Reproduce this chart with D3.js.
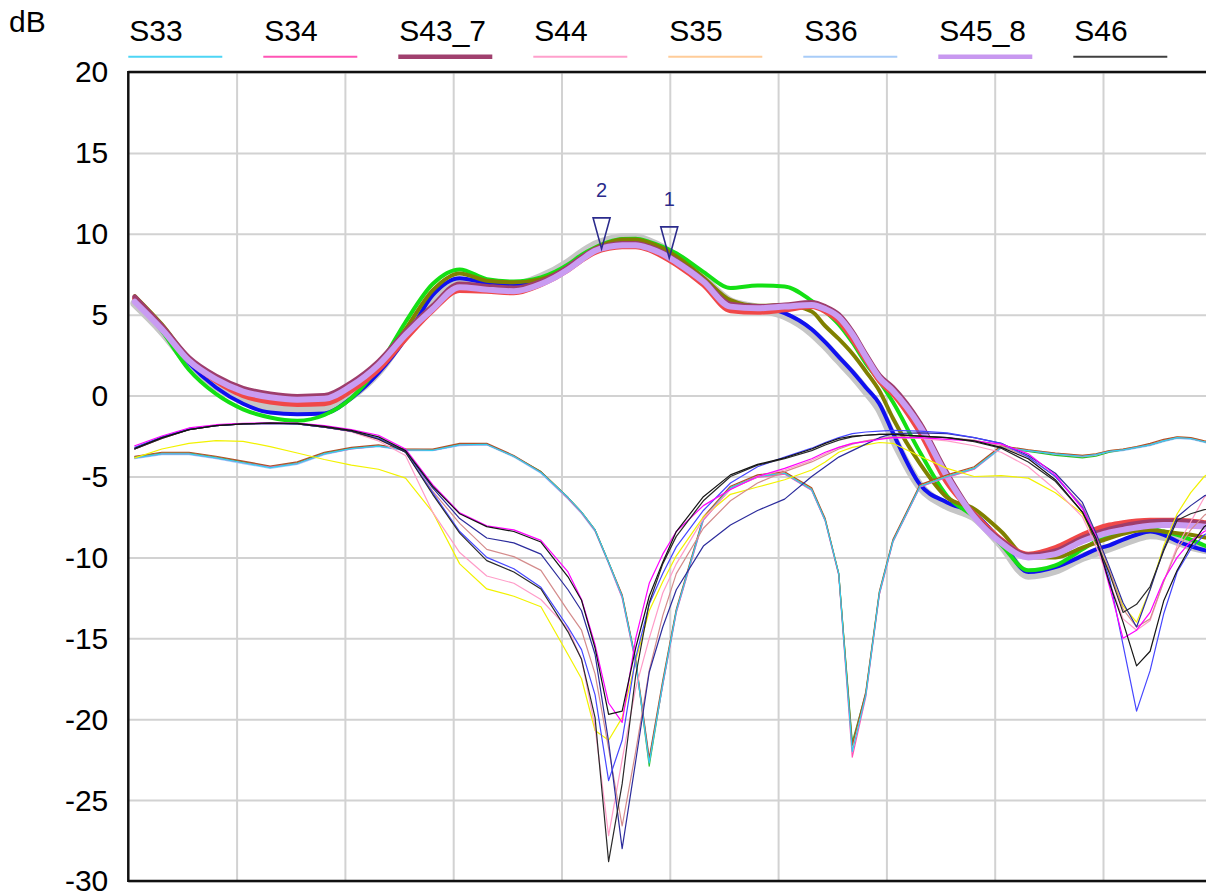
<!DOCTYPE html>
<html>
<head>
<meta charset="utf-8">
<script src="https://cdn.jsdelivr.net/npm/d3@7"></script>
<style>
  html, body { margin: 0; padding: 0; background: #ffffff; }
  svg { display: block; font-family: "Liberation Sans", Arial, sans-serif; }
</style>
</head>
<body>
<svg id="chart" width="1206" height="895"></svg>
<script>
// Sweep points (grid divisions along the frequency axis)
const freq = [0.06,0.31,0.56,0.81,1.06,1.31,1.56,1.81,2.06,2.31,2.56,2.81,3.06,3.31,3.56,3.81,4.06,
  4.185,4.31,4.435,4.56,4.685,4.81,4.935,5.06,5.31,5.56,5.81,6.06,6.31,
  6.435,6.56,6.685,6.81,6.935,7.06,7.31,7.56,7.81,8.06,8.31,8.56,8.81,
  8.935,9.06,9.185,9.31,9.435,9.56,9.685,9.81,9.935,10.06];

const yTicks = [20, 15, 10, 5, 0, -5, -10, -15, -20, -25, -30];
const xGrid = [1, 2, 3, 4, 5, 6, 7, 8, 9];

// ---- gain traces (dB) ----
const s45_4 = [5.7,4.0,2.0,0.6,-0.3,-0.7,-0.85,-0.8,0.0,1.5,
  3.8,6.0,6.95,6.8,6.8,7.3,8.2,8.8,9.3,9.6,
  9.75,9.75,9.5,9.1,8.5,7.2,5.8,5.4,4.95,3.9,
  3.1,2.2,1.3,0.3,-0.8,-2.6,-5.6,-6.8,-7.5,-9.2,
  -11.1,-10.8,-10.0,-9.7,-9.4,-9.1,-8.8,-8.6,-8.7,-9.0,
  -9.3,-9.5,-9.7];
const s43_3 = [6.0,4.1,2.0,0.5,-0.5,-1.05,-1.15,-1.1,-0.15,1.4,
  3.5,6.2,7.25,6.95,6.8,7.15,8.0,8.55,9.05,9.35,
  9.55,9.55,9.3,8.95,8.45,7.25,5.7,5.5,5.1,4.1,
  3.3,2.4,1.5,0.5,-0.5,-2.3,-5.5,-6.6,-7.3,-9.0,
  -10.9,-10.6,-9.9,-9.5,-9.25,-8.9,-8.6,-8.4,-8.6,-9.0,
  -9.3,-9.55,-9.7];
const s43_1 = [6.0,4.0,1.6,0.1,-0.85,-1.35,-1.55,-1.2,-0.15,1.8,
  4.55,6.9,7.8,7.2,7.05,7.3,8.1,8.7,9.15,9.5,
  9.68,9.7,9.5,9.2,8.8,7.65,6.65,6.8,6.75,5.85,
  5.2,4.4,3.3,2.0,0.9,-0.4,-3.5,-6.2,-7.5,-9.2,
  -10.8,-10.5,-9.5,-9.0,-8.6,-8.35,-8.15,-8.2,-8.4,-8.6,
  -8.9,-9.25,-9.5];
const s43_5 = [6.15,4.4,2.3,1.0,0.2,-0.2,-0.35,-0.3,0.4,1.8,
  4.1,6.5,7.55,7.1,7.0,7.2,7.95,8.55,9.1,9.45,
  9.65,9.65,9.45,9.1,8.6,7.3,5.9,5.55,5.6,5.2,
  4.3,3.5,2.6,1.5,0.3,-1.4,-4.2,-6.3,-7.0,-8.4,
  -10.0,-10.0,-9.4,-9.1,-8.8,-8.55,-8.35,-8.3,-8.4,-8.5,
  -8.6,-8.75,-8.85];
const s45_2 = [6.0,4.25,2.2,0.9,0.0,-0.4,-0.55,-0.5,0.3,1.6,
  3.5,5.25,6.5,6.45,6.35,6.85,7.75,8.35,8.85,9.1,
  9.2,9.2,9.0,8.6,8.1,6.85,5.25,5.15,5.3,5.5,
  5.2,4.6,3.5,2.2,0.9,0.1,-2.3,-5.4,-7.3,-8.9,
  -9.8,-9.4,-8.6,-8.25,-8.0,-7.85,-7.75,-7.7,-7.7,-7.7,
  -7.75,-7.85,-7.95];
const s43_7 = [6.1,4.3,2.35,1.2,0.45,0.1,-0.05,0.0,0.8,2.1,
  3.95,5.55,6.9,6.75,6.65,7.05,7.95,8.55,9.05,9.3,
  9.4,9.4,9.2,8.85,8.35,7.15,5.65,5.5,5.6,5.75,
  5.5,5.0,3.95,2.55,1.25,0.5,-1.7,-4.8,-7.4,-8.95,
  -9.85,-9.6,-8.8,-8.5,-8.25,-8.05,-7.9,-7.8,-7.75,-7.75,
  -7.8,-7.9,-8.0];
const s45_8 = [5.8,4.1,2.15,1.0,0.25,-0.1,-0.25,-0.2,0.6,1.9,
  3.75,5.35,6.7,6.55,6.45,6.9,7.8,8.4,8.95,9.2,
  9.3,9.3,9.1,8.75,8.25,7.05,5.5,5.4,5.5,5.6,
  5.35,4.85,3.8,2.4,1.1,0.3,-1.9,-5.0,-7.5,-9.1,
  -10.0,-9.8,-9.0,-8.7,-8.45,-8.3,-8.15,-8.05,-8.0,-8.0,
  -8.05,-8.1,-8.2];

// ---- isolation traces (dB) ----
const s36 = [-3.9,-3.65,-3.65,-3.9,-4.2,-4.5,-4.25,-3.65,-3.3,-3.15,
  -3.4,-3.4,-3.1,-3.05,-3.8,-4.8,-6.4,-7.3,-8.4,-10.4,
  -12.5,-16.5,-22.5,-17.9,-13.4,-7.7,-5.75,-5.05,-4.85,-5.85,
  -7.75,-11.1,-21.8,-18.5,-12.3,-9.05,-5.65,-5.05,-4.55,-3.25,
  -3.45,-3.65,-3.8,-3.7,-3.5,-3.4,-3.25,-3.1,-2.85,-2.65,
  -2.7,-2.9,-3.05];
const s35 = [-3.8,-3.55,-3.55,-3.8,-4.1,-4.4,-4.15,-3.55,-3.25,-3.1,
  -3.3,-3.35,-3.0,-3.0,-3.75,-4.7,-6.3,-7.2,-8.3,-10.3,
  -12.4,-16.4,-22.6,-17.7,-13.3,-7.6,-5.65,-4.95,-4.75,-5.75,
  -7.65,-11.0,-21.8,-18.4,-12.2,-8.95,-5.55,-4.95,-4.45,-3.15,
  -3.35,-3.55,-3.7,-3.6,-3.4,-3.3,-3.15,-3.0,-2.75,-2.55,
  -2.6,-2.8,-2.95];
const s63 = [-3.8,-3.55,-3.55,-3.8,-4.1,-4.4,-4.15,-3.55,-3.25,-3.1,
  -3.35,-3.35,-3.0,-3.0,-3.75,-4.7,-6.3,-7.2,-8.3,-10.3,
  -12.4,-16.4,-22.9,-17.8,-13.3,-7.6,-5.7,-5.0,-4.8,-5.8,
  -7.7,-11.0,-21.4,-18.4,-12.2,-9.0,-5.6,-5.0,-4.5,-3.2,
  -3.45,-3.7,-3.85,-3.75,-3.5,-3.35,-3.2,-3.05,-2.8,-2.6,
  -2.65,-2.85,-3.0];
const s34 = [-3.85,-3.6,-3.6,-3.85,-4.15,-4.4,-4.2,-3.6,-3.3,-3.12,
  -3.35,-3.38,-3.05,-3.02,-3.75,-4.75,-6.35,-7.25,-8.35,-10.35,
  -12.5,-16.5,-22.6,-17.9,-13.4,-7.7,-5.75,-5.05,-4.85,-5.85,
  -7.75,-11.1,-22.35,-18.6,-12.3,-9.05,-5.65,-5.05,-4.55,-3.2,
  -3.4,-3.6,-3.75,-3.65,-3.45,-3.35,-3.2,-3.05,-2.8,-2.6,
  -2.65,-2.85,-3.0];
const s53 = [-3.75,-3.5,-3.5,-3.75,-4.05,-4.35,-4.1,-3.5,-3.2,-3.05,
  -3.3,-3.3,-2.95,-2.95,-3.7,-4.7,-6.3,-7.2,-8.3,-10.3,
  -12.3,-16.3,-22.4,-17.6,-13.2,-7.5,-5.6,-4.9,-4.7,-5.7,
  -7.6,-11.0,-21.6,-18.3,-12.1,-8.9,-5.5,-4.9,-4.4,-3.1,
  -3.35,-3.55,-3.7,-3.6,-3.4,-3.3,-3.15,-2.95,-2.7,-2.55,
  -2.6,-2.8,-2.95];
const s33 = [-3.85,-3.6,-3.6,-3.85,-4.15,-4.45,-4.2,-3.6,-3.28,-3.12,
  -3.35,-3.38,-3.05,-3.02,-3.75,-4.75,-6.3,-7.2,-8.3,-10.3,
  -12.4,-16.4,-22.7,-17.8,-13.3,-7.6,-5.7,-5.0,-4.8,-5.8,
  -7.7,-11.0,-22.0,-18.5,-12.2,-9.0,-5.6,-5.0,-4.5,-3.2,
  -3.4,-3.6,-3.75,-3.65,-3.45,-3.35,-3.2,-3.05,-2.8,-2.6,
  -2.65,-2.85,-3.0];

// ---- return-loss traces (dB) ----
const s54 = [-3.85,-3.3,-2.95,-2.78,-2.83,-3.15,-3.55,-3.95,-4.3,-4.55,
  -5.1,-7.2,-10.4,-11.95,-12.4,-13.05,-16.0,-17.5,-20.7,-21.3,
  -19.9,-16.4,-13.3,-11.5,-9.9,-7.5,-6.1,-5.65,-5.2,-4.6,
  -4.1,-3.5,-3.2,-3.05,-2.9,-2.95,-3.75,-4.5,-5.0,-4.95,
  -5.1,-6.0,-7.3,-9.0,-10.9,-13.0,-14.0,-12.0,-9.3,-7.3,
  -6.0,-5.0,-4.4];
const s44 = [-3.3,-2.65,-2.1,-1.85,-1.75,-1.72,-1.75,-1.95,-2.25,-2.8,
  -3.7,-7.2,-9.7,-11.15,-11.6,-12.6,-14.4,-16.3,-20.5,-27.2,
  -22.5,-18.1,-15.0,-12.2,-10.4,-7.6,-5.8,-5.0,-4.6,-4.0,
  -3.6,-3.2,-2.95,-2.8,-2.65,-2.6,-2.65,-2.8,-3.1,-3.5,
  -4.4,-5.8,-7.5,-9.3,-11.5,-13.8,-14.5,-13.9,-11.5,-9.3,
  -7.8,-6.3,-5.5];
const s65 = [-3.3,-2.65,-2.1,-1.85,-1.75,-1.72,-1.75,-1.95,-2.2,-2.7,
  -3.5,-5.9,-7.9,-9.5,-9.95,-10.8,-13.3,-14.5,-17.2,-21.8,
  -26.6,-22.0,-17.0,-13.6,-11.0,-8.2,-6.5,-5.4,-4.7,-4.1,
  -3.7,-3.3,-3.0,-2.8,-2.65,-2.55,-2.55,-2.6,-2.75,-3.1,
  -3.8,-5.0,-6.8,-8.6,-10.8,-13.2,-14.3,-13.8,-11.5,-9.5,
  -8.3,-7.4,-6.9];
const s64 = [-3.3,-2.6,-2.1,-1.85,-1.75,-1.72,-1.75,-1.95,-2.2,-2.65,
  -3.45,-5.7,-7.6,-8.8,-9.1,-9.8,-12.0,-13.3,-16.0,-21.4,
  -28.0,-22.6,-17.1,-14.3,-12.0,-9.3,-8.0,-7.1,-6.4,-5.0,
  -4.4,-3.8,-3.4,-3.0,-2.6,-2.35,-2.3,-2.35,-2.6,-2.95,
  -3.7,-4.8,-6.6,-8.5,-10.6,-12.8,-14.3,-12.0,-9.5,-7.5,
  -6.8,-6.2,-5.8];
const s56 = [-3.2,-2.55,-2.05,-1.85,-1.75,-1.72,-1.75,-1.95,-2.2,-2.65,
  -3.5,-6.0,-8.4,-10.0,-10.7,-11.85,-14.3,-15.7,-18.5,-23.8,
  -21.3,-16.2,-12.9,-11.0,-9.35,-7.1,-5.4,-4.4,-3.8,-3.25,
  -2.9,-2.6,-2.35,-2.25,-2.2,-2.15,-2.2,-2.3,-2.6,-2.95,
  -3.8,-5.0,-6.9,-8.8,-11.3,-15.4,-19.5,-17.0,-13.5,-10.9,
  -9.5,-8.6,-8.2];
const s55 = [-3.1,-2.5,-2.0,-1.8,-1.72,-1.68,-1.7,-1.85,-2.1,-2.45,
  -3.3,-5.5,-7.25,-8.05,-8.3,-8.95,-10.9,-12.6,-15.4,-19.0,
  -20.2,-15.0,-11.6,-9.8,-8.4,-6.8,-5.8,-5.0,-4.5,-3.9,
  -3.5,-3.2,-2.95,-2.85,-2.7,-2.6,-2.6,-2.7,-2.8,-3.0,
  -3.6,-4.9,-7.0,-8.7,-11.8,-15.0,-14.5,-13.4,-11.4,-10.0,
  -9.0,-8.4,-8.0];
const s66 = [-3.3,-2.65,-2.1,-1.85,-1.75,-1.7,-1.75,-1.95,-2.2,-2.7,
  -3.5,-6.1,-8.5,-10.2,-10.9,-11.95,-14.6,-16.3,-19.9,-28.8,
  -24.0,-17.3,-12.8,-10.4,-8.7,-6.5,-5.0,-4.3,-3.9,-3.4,
  -3.05,-2.75,-2.55,-2.45,-2.4,-2.4,-2.5,-2.6,-2.85,-3.25,
  -4.1,-5.3,-7.2,-9.0,-11.0,-13.4,-12.9,-11.8,-9.6,-7.7,
  -7.3,-7.05,-6.9];
const s46 = [-3.25,-2.6,-2.1,-1.85,-1.75,-1.7,-1.72,-1.9,-2.15,-2.55,
  -3.4,-5.6,-7.3,-8.1,-8.4,-9.05,-11.2,-12.65,-15.6,-19.7,
  -19.5,-15.6,-12.4,-10.3,-8.4,-6.25,-4.9,-4.25,-3.85,-3.3,
  -2.95,-2.65,-2.5,-2.45,-2.4,-2.4,-2.5,-2.6,-2.8,-3.2,
  -3.9,-5.2,-7.2,-8.8,-11.6,-14.0,-16.7,-15.8,-12.7,-10.8,
  -9.3,-8.1,-7.5];

// Traces in drawing order (bottom first); wide traces are smooth, narrow ones keep their sharp notches
const series = [
  { name: "S45_4", values: s45_4, color: "#c6c6c6", width: 9 },
  { name: "S43_3", values: s43_3, color: "#1010f0", width: 4 },
  { name: "S43_1", values: s43_1, color: "#14e014", width: 4 },
  { name: "S43_5", values: s43_5, color: "#808000", width: 4 },
  { name: "S45_2", values: s45_2, color: "#f04848", width: 5 },
  { name: "S43_7", values: s43_7, color: "#9e3d6c", width: 5 },
  { name: "S45_8", values: s45_8, color: "#c99cf2", width: 6 },
  { name: "S36",   values: s36,   color: "#9ccaff", width: 1.2 },
  { name: "S35",   values: s35,   color: "#ffc488", width: 1.2 },
  { name: "S63",   values: s63,   color: "#30c030", width: 1.2 },
  { name: "S34",   values: s34,   color: "#ff50b4", width: 1.2 },
  { name: "S53",   values: s53,   color: "#b0502a", width: 1.2 },
  { name: "S33",   values: s33,   color: "#30cff0", width: 1.2 },
  { name: "S54",   values: s54,   color: "#f2f200", width: 1.2 },
  { name: "S44",   values: s44,   color: "#ff9cc8", width: 1.2 },
  { name: "S65",   values: s65,   color: "#d48c8c", width: 1.2 },
  { name: "S64",   values: s64,   color: "#2c2c9c", width: 1.2 },
  { name: "S56",   values: s56,   color: "#4646ff", width: 1.2 },
  { name: "S55",   values: s55,   color: "#ff00ff", width: 1.2 },
  { name: "S66",   values: s66,   color: "#2a2a2a", width: 1.2 },
  { name: "S46",   values: s46,   color: "#141414", width: 1.2 }
];

const legendNames = ["S33", "S34", "S43_7", "S44", "S35", "S36", "S45_8", "S46"];
const legendColors = { S33: "#4dd5f5", S34: "#ff55b5", S43_7: "#a0406e", S44: "#ffa0cc",
  S35: "#ffcc99", S36: "#a8ccf8", S45_8: "#c898f0", S46: "#404040" };

// Markers sit on the S45_8 trace
const markers = [
  { label: "1", freq: 4.995, trace: "S45_8" },
  { label: "2", freq: 4.37,  trace: "S45_8" }
];

// ---- layout ----
const plotLeft = 128.3, plotRight = 1211.3, plotTop = 72, plotBottom = 881;
const FONT = '"Liberation Sans", Arial, sans-serif';

const x = d3.scaleLinear().domain([0, 10]).range([plotLeft, plotRight]);
const y = d3.scaleLinear().domain([-30, 20]).range([plotBottom, plotTop]);

const svg = d3.select("#chart");

svg.append("defs").append("clipPath").attr("id", "plot-clip")
  .append("rect")
  .attr("x", plotLeft).attr("y", plotTop)
  .attr("width", plotRight - plotLeft).attr("height", plotBottom - plotTop);

// vertical grid lines
const gx = svg.append("g")
  .attr("transform", `translate(0,${plotBottom})`)
  .call(d3.axisBottom(x).tickValues(xGrid).tickSize(-(plotBottom - plotTop)).tickFormat(""));
gx.select(".domain").remove();
gx.selectAll(".tick line").attr("stroke", "#d2d2d2").attr("stroke-width", 2);

// horizontal grid lines + dB labels (plain hyphen for negatives)
const gy = svg.append("g")
  .attr("transform", `translate(${plotLeft},0)`)
  .call(d3.axisLeft(y).tickValues(yTicks).tickSize(-(plotRight - plotLeft))
    .tickPadding(20).tickFormat(d => String(d)));
gy.attr("font-family", FONT).attr("font-size", 30);
gy.select(".domain").remove();
gy.selectAll(".tick line").attr("stroke", "#d2d2d2").attr("stroke-width", 2);
gy.selectAll(".tick text").attr("fill", "#000").attr("dy", "0.33em");

// traces
const smoothLine = d3.line()
  .x((d, i) => x(freq[i]))
  .y(d => y(d))
  .curve(d3.curveMonotoneX);
const sharpLine = d3.line()
  .x((d, i) => x(freq[i]))
  .y(d => y(d));

svg.append("g").attr("clip-path", "url(#plot-clip)")
  .selectAll("path")
  .data(series)
  .join("path")
  .attr("d", s => (s.width > 3 ? smoothLine : sharpLine)(s.values))
  .attr("fill", "none")
  .attr("stroke", s => s.color)
  .attr("stroke-width", s => s.width)
  .attr("stroke-linejoin", "round")
  .attr("stroke-linecap", "round");

// frame
const frame = svg.append("g").attr("stroke", "#111").attr("stroke-width", 2.5);
frame.append("line").attr("x1", plotLeft).attr("x2", plotLeft).attr("y1", plotTop - 1).attr("y2", plotBottom + 1);
frame.append("line").attr("x1", plotLeft).attr("x2", 1206).attr("y1", plotTop).attr("y2", plotTop);
frame.append("line").attr("x1", plotLeft).attr("x2", 1206).attr("y1", plotBottom).attr("y2", plotBottom);

// unit label
svg.append("text")
  .attr("x", 9).attr("y", 32)
  .attr("font-family", FONT).attr("font-size", 30).attr("fill", "#000")
  .text("dB");

// legend
const legend = svg.append("g").attr("font-family", FONT).attr("font-size", 30);
const legendItem = legend.selectAll("g")
  .data(legendNames)
  .join("g")
  .attr("transform", (d, i) => `translate(${plotLeft + i * 135},0)`);
legendItem.append("text").attr("x", 1).attr("y", 41).attr("fill", "#000").text(d => d);
legendItem.append("line")
  .attr("x1", 0).attr("x2", 94).attr("y1", 56.7).attr("y2", 56.7)
  .attr("stroke", d => legendColors[d])
  .attr("stroke-width", d => (series.find(s => s.name === d).width > 3 ? 4.5 : 2));

// markers
function valueAt(name, f) {
  const vals = series.find(s => s.name === name).values;
  const i = d3.bisectRight(freq, f) - 1;
  const t = (f - freq[i]) / (freq[i + 1] - freq[i]);
  return vals[i] + t * (vals[i + 1] - vals[i]);
}
const mk = svg.append("g").selectAll("g").data(markers).join("g")
  .attr("transform", m => `translate(${x(m.freq)},${y(valueAt(m.trace, m.freq))})`);
mk.append("path")
  .attr("d", "M-8.5,-31L8.5,-31L0,0Z")
  .attr("fill", "none")
  .attr("stroke", "#2b2b8c")
  .attr("stroke-width", 1.6)
  .attr("stroke-linejoin", "miter");
mk.append("text")
  .attr("x", 0).attr("y", -52)
  .attr("text-anchor", "middle")
  .attr("font-family", FONT).attr("font-size", 20).attr("fill", "#2b2b8c")
  .text(m => m.label);
</script>
</body>
</html>
